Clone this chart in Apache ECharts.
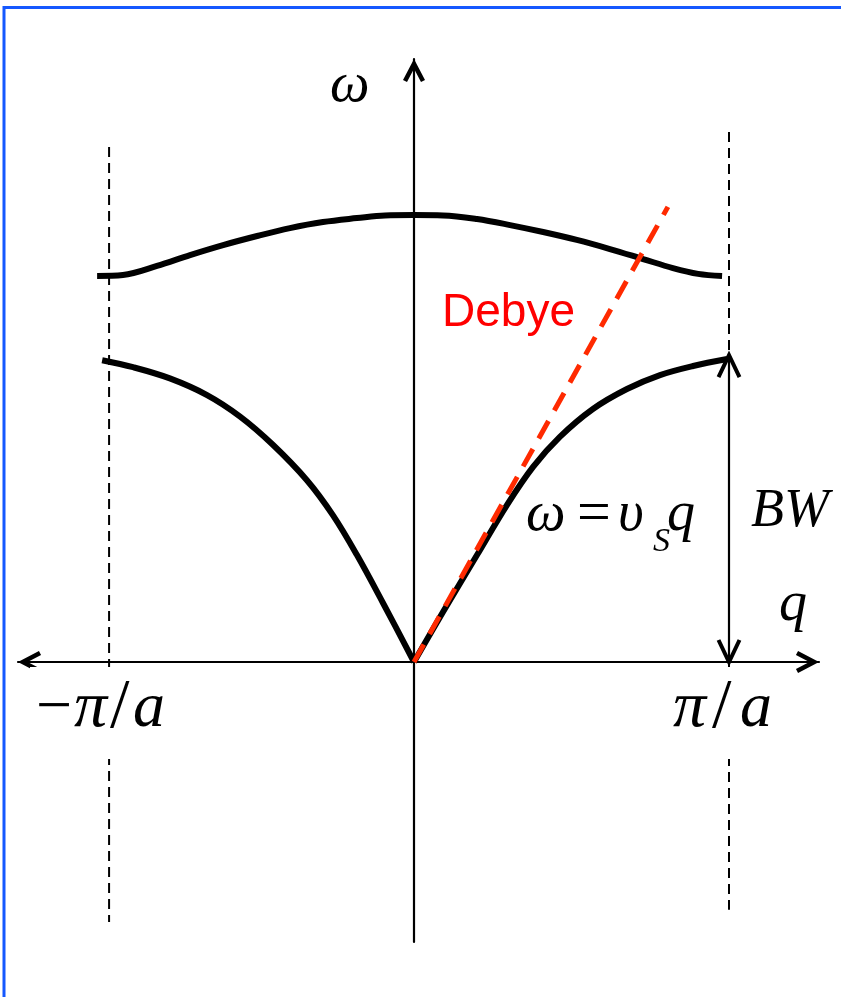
<!DOCTYPE html>
<html>
<head>
<meta charset="utf-8">
<script src="https://cdn.jsdelivr.net/npm/echarts@6/dist/echarts.min.js"></script>
<style>
  html, body { margin: 0; padding: 0; background: #fff; }
  #chart { width: 841px; height: 997px; }
</style>
</head>
<body>
<div id="chart"></div>
<script>
// Phonon dispersion of a diatomic chain.
// q is in units of pi/a, omega in units of the top of the acoustic band.

// optical branch
const opticalQ = [-1.006, -0.924, -0.816, -0.711, -0.606, -0.498, -0.394, -0.289, -0.181, -0.092, 0, 0.092, 0.2, 0.305, 0.41, 0.517, 0.622, 0.727, 0.822, 0.902, 0.978];
const opticalW = [1.274, 1.277, 1.307, 1.343, 1.376, 1.406, 1.432, 1.452, 1.465, 1.474, 1.475, 1.474, 1.462, 1.442, 1.419, 1.393, 1.363, 1.330, 1.300, 1.281, 1.274];

// acoustic branch, q < 0
const acousticLeftQ = [-0.990, -0.892, -0.775, -0.657, -0.552, -0.448, -0.340, -0.257, -0.181, -0.098, 0];
const acousticLeftW = [0.996, 0.973, 0.936, 0.881, 0.810, 0.717, 0.600, 0.484, 0.353, 0.194, 0];

// acoustic branch, q > 0
const acousticRightQ = [0, 0.092, 0.2, 0.295, 0.378, 0.463, 0.568, 0.676, 0.781, 0.886, 0.994];
const acousticRightW = [0, 0.165, 0.353, 0.518, 0.644, 0.743, 0.835, 0.901, 0.947, 0.977, 1.0];

// Debye (linear) approximation omega = v_s q
const debyeQ = [0, 0.806];
const debyeW = [0, 1.502];

// Brillouin zone edges (-pi/a, pi/a) and the extent of their guide lines
const zoneEdgeQ = [-0.968, 1.0];
const zoneEdgeTopW = [1.700, 1.749];
const zoneEdgeBottomW = [-0.858, -0.818];

// acoustic bandwidth marker
const bandwidthQ = 1.0;
const bandwidthW = [0, 1.013];

const zip = (xs, ys) => xs.map((x, i) => [x, ys[i]]);

// open arrow head, pointing "up" in symbol space
const chevron = 'path://M11,0 L22,21 L18,23.1 L11,9.7 L4,23.1 L0,21 Z';

const serif = '"Liberation Serif", "Times New Roman", "DejaVu Serif", serif';
const sans = '"Liberation Sans", Arial, Helvetica, sans-serif';

const chart = echarts.init(document.getElementById('chart'), null, { renderer: 'canvas' });

const curveStyle = { color: '#000', width: 6, cap: 'butt', join: 'round' };
const edgeStyle = { color: '#000', width: 2, type: [10, 6] };

function txt(x, y, s, font, fill) {
  return { type: 'text', x: x, y: y, silent: true, z: 20,
    style: { text: s, font: font, fill: fill || '#000', verticalAlign: 'middle' } };
}
// white box behind a label so guide lines do not run through it
function mask(x, y, w, h) {
  return { type: 'rect', silent: true, z: 15, shape: { x: x, y: y, width: w, height: h }, style: { fill: '#fff' } };
}

const option = {
  animation: false,
  backgroundColor: '#fff',
  grid: { left: 18, right: 22, top: 59, bottom: 55, containLabel: false },
  xAxis: {
    type: 'value',
    min: -1.25714, max: 1.28571,
    axisLine: {
      onZero: true,
      lineStyle: { color: '#000', width: 2.2 },
      symbol: [chevron, chevron],
      symbolSize: [22, 23.1],
      symbolOffset: [11.5, -11.5]
    },
    axisTick: { show: false },
    axisLabel: { show: false },
    splitLine: { show: false }
  },
  yAxis: {
    type: 'value',
    min: -0.92409, max: 1.99010,
    axisLine: {
      onZero: true,
      lineStyle: { color: '#000', width: 2.2 },
      symbol: ['none', chevron],
      symbolSize: [22, 23.1],
      symbolOffset: [0, -11.5]
    },
    axisTick: { show: false },
    axisLabel: { show: false },
    splitLine: { show: false }
  },
  series: [
    {
      name: 'zone edge -', type: 'line', silent: true, showSymbol: false,
      data: [[zoneEdgeQ[0], zoneEdgeTopW[0]], [zoneEdgeQ[0], zoneEdgeBottomW[0]]],
      lineStyle: edgeStyle, z: 1
    },
    {
      name: 'zone edge +', type: 'line', silent: true, showSymbol: false,
      data: [[zoneEdgeQ[1], zoneEdgeTopW[1]], [zoneEdgeQ[1], zoneEdgeBottomW[1]]],
      lineStyle: edgeStyle, z: 1
    },
    {
      name: 'optical', type: 'line', silent: true, showSymbol: false, smooth: 0.35,
      data: zip(opticalQ, opticalW), lineStyle: curveStyle, z: 3
    },
    {
      name: 'acoustic -', type: 'line', silent: true, showSymbol: false, smooth: 0.35,
      data: zip(acousticLeftQ, acousticLeftW), lineStyle: curveStyle, z: 3
    },
    {
      name: 'acoustic +', type: 'line', silent: true, showSymbol: false, smooth: 0.35,
      data: zip(acousticRightQ, acousticRightW), lineStyle: curveStyle, z: 3
    },
    {
      name: 'Debye', type: 'line', silent: true, showSymbol: false,
      data: zip(debyeQ, debyeW),
      lineStyle: { color: '#ff2a00', width: 5, type: [20, 12] }, z: 4
    },
    {
      name: 'BW', type: 'custom', silent: true, z: 5,
      data: [[bandwidthQ, bandwidthW[0], bandwidthW[1]]],
      renderItem: function (params, api) {
        const lo = api.coord([api.value(0), api.value(1)]);
        const hi = api.coord([api.value(0), api.value(2)]);
        const hw = 10.5, hl = 22;
        const head = { stroke: '#000', fill: null, lineWidth: 4, lineJoin: 'miter', lineCap: 'butt' };
        return {
          type: 'group',
          children: [
            { type: 'line', shape: { x1: hi[0], y1: hi[1] + 2, x2: lo[0], y2: lo[1] - 2 }, style: { stroke: '#000', lineWidth: 2.2 } },
            { type: 'polyline', shape: { points: [[hi[0] - hw, hi[1] + hl], [hi[0], hi[1]], [hi[0] + hw, hi[1] + hl]] }, style: head },
            { type: 'polyline', shape: { points: [[lo[0] - hw, lo[1] - hl], [lo[0], lo[1]], [lo[0] + hw, lo[1] - hl]] }, style: head }
          ]
        };
      }
    }
  ],
  graphic: [
    // slide frame
    {
      type: 'rect', silent: true, z: 10,
      shape: { x: 4, y: 7.5, width: 900, height: 1100 },
      style: { fill: null, stroke: '#1558ff', lineWidth: 3 }
    },
    // axis titles
    txt(330, 86, 'ω', 'italic 56px ' + serif),
    txt(779, 605, 'q', 'italic 56px ' + serif),
    // zone boundary labels: -pi/a and pi/a
    mask(30, 667, 140, 92),
    mask(668, 667, 120, 92),
    txt(36, 709, '−', '64px ' + serif),
    txt(74, 709, 'π', 'italic 66px ' + serif),
    txt(110, 709, '/', '70px ' + serif),
    txt(133, 709, 'a', 'italic 64px ' + serif),
    txt(673, 709, 'π', 'italic 66px ' + serif),
    txt(712, 709, '/', '70px ' + serif),
    txt(740, 709, 'a', 'italic 64px ' + serif),
    // Debye label
    txt(442, 313, 'Debye', '46px ' + sans, '#ff0000'),
    // linear dispersion  omega = v_s q
    txt(526, 515, 'ω', 'italic 56px ' + serif),
    txt(577, 515, '=', '60px ' + serif),
    txt(618, 515, 'υ', 'italic 56px ' + serif),
    txt(653, 542, 'S', 'italic 34px ' + serif),
    txt(667, 515, 'q', 'italic 56px ' + serif),
    // bandwidth label
    txt(751, 512, 'BW', 'italic 54px ' + serif)
  ]
};

chart.setOption(option);
</script>
</body>
</html>
